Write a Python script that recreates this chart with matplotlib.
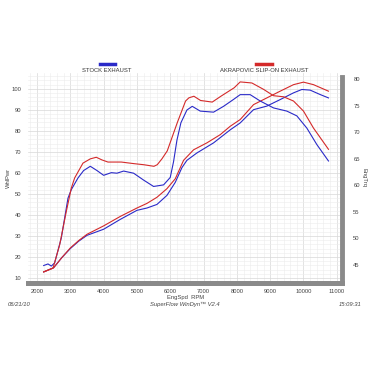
import numpy as np
import matplotlib
matplotlib.use("Agg")
import matplotlib.pyplot as plt
from matplotlib.lines import Line2D
from matplotlib.ticker import MultipleLocator

plt.rcParams['font.family'] = ['Liberation Sans', 'DejaVu Sans']

# Puissance a la roue (axe gauche)
rpm_pwr_stock = [2200, 2500, 2750, 3000, 3250, 3500, 4000, 4500, 5000, 5300, 5600, 5900,
                 6150, 6350, 6500, 6800, 7300, 7800, 8100, 8500, 8900, 9300, 9700, 9950,
                 10200, 10500, 10750]
pwr_stock = [12.9, 14.9, 19.8, 24.0, 27.5, 30.3, 33.2, 37.9, 42.2, 43.3, 45.0, 49.3,
             55.5, 62.5, 66.0, 69.5, 74.3, 80.5, 83.8, 90.1, 91.8, 94.9, 98.1, 99.7,
             99.4, 97.3, 95.7]

rpm_pwr_akra = [2200, 2500, 2750, 3000, 3250, 3500, 4000, 4500, 5000, 5300, 5600, 5900,
                6150, 6400, 6700, 7100, 7500, 7800, 8100, 8500, 8900, 9300, 9700, 10000,
                10300, 10750]
pwr_akra = [12.9, 14.9, 19.8, 24.3, 27.8, 30.8, 34.8, 39.3, 43.3, 45.5, 48.4, 52.5,
            57.2, 66.0, 71.0, 74.3, 78.2, 82.2, 85.4, 92.5, 95.7, 98.9, 102.0, 103.2,
            102.0, 98.9]

# Couple (axe droit)
rpm_trq_stock = [2200, 2330, 2430, 2530, 2730, 2930, 3030, 3230, 3400, 3600, 3800, 4000,
                 4230, 4400, 4600, 4900, 5200, 5500, 5800, 6000, 6100, 6200, 6320, 6500,
                 6660, 6900, 7300, 7600, 7900, 8100, 8400, 8700, 9100, 9500, 9800, 10100,
                 10400, 10750]
trq_stock = [44.9, 45.2, 44.8, 45.4, 50.1, 57.6, 59.2, 61.4, 62.8, 63.6, 62.8, 61.9,
             62.4, 62.3, 62.7, 62.3, 61.0, 59.8, 60.1, 61.5, 64.5, 68.5, 71.8, 74.2,
             74.9, 74.0, 73.8, 74.9, 76.2, 77.1, 77.1, 75.9, 74.6, 74.0, 73.1, 70.8,
             67.7, 64.6]

rpm_trq_akra = [2200, 2480, 2680, 2880, 3030, 3130, 3380, 3600, 3780, 3950, 4130, 4530,
                4910, 5200, 5510, 5610, 5750, 5910, 6210, 6460, 6560, 6710, 6910, 7260,
                7520, 7920, 8100, 8450, 8800, 9100, 9400, 9700, 10000, 10300, 10750]
trq_akra = [43.7, 44.4, 48.8, 55.1, 59.5, 61.4, 64.2, 65.0, 65.3, 64.8, 64.4, 64.4,
            64.1, 63.9, 63.6, 63.9, 65.0, 66.5, 71.8, 75.9, 76.5, 76.8, 76.0, 75.7,
            76.8, 78.4, 79.5, 79.3, 78.1, 76.9, 76.7, 75.9, 74.0, 70.8, 66.8]

BLUE = '#2a2ac8'
RED = '#d42a2a'
TXT = '#444444'
FS = 4.2

fig = plt.figure(figsize=(3.7, 3.7), dpi=100)
ax = fig.add_axes([0.0757, 0.235, 0.849, 0.568])
ax2 = ax.twinx()

ax.set_xlim(1730, 11160)
ax.set_ylim(7.6, 107.6)
ax2.set_ylim(41.6, 81.2)

ax.xaxis.set_major_locator(MultipleLocator(1000))
ax.xaxis.set_minor_locator(MultipleLocator(200))
ax.yaxis.set_major_locator(MultipleLocator(10))
ax.yaxis.set_minor_locator(MultipleLocator(2))
ax2.yaxis.set_major_locator(MultipleLocator(5))
ax.grid(True, which='major', color='#d8d8d8', lw=0.5)
ax.grid(True, which='minor', color='#ececec', lw=0.4)
ax.set_axisbelow(True)

ax.plot(rpm_pwr_stock, pwr_stock, color=BLUE, lw=0.8)
ax.plot(rpm_pwr_akra, pwr_akra, color=RED, lw=0.8)
ax2.plot(rpm_trq_stock, trq_stock, color=BLUE, lw=0.8)
ax2.plot(rpm_trq_akra, trq_akra, color=RED, lw=0.8)

for a in (ax, ax2):
    for s in ('top', 'left'):
        a.spines[s].set_visible(False)
    a.spines['bottom'].set_color('#8a8a8a')
    a.spines['bottom'].set_linewidth(3.5)
    a.tick_params(which='both', length=0, labelsize=FS, labelcolor=TXT)
ax.spines['right'].set_visible(False)
ax2.spines['right'].set_color('#8a8a8a')
ax2.spines['right'].set_linewidth(3.5)
ax2.spines['right'].set_bounds(41.6, 80.5)
ax.tick_params(axis='x', pad=4)
ax.tick_params(axis='y', pad=5)
ax2.tick_params(axis='y', pad=8)

ax.set_ylabel('WhlPwr', fontsize=FS, color=TXT, labelpad=0)
ax2.set_ylabel('EngTrq', fontsize=FS, color=TXT, rotation=270, labelpad=5)
ax.set_xlabel('EngSpd  RPM', fontsize=FS, color=TXT, labelpad=1)

# legende en haut
fig.add_artist(Line2D([100/370, 115/370], [1-64/370]*2, color=BLUE, lw=2.5))
fig.add_artist(Line2D([256/370, 272/370], [1-64/370]*2, color=RED, lw=2.5))
fig.text(107/370, 1-70/370, 'STOCK EXHAUST', fontsize=FS, color='#333333', ha='center', va='center')
fig.text(264/370, 1-70/370, 'AKRAPOVIC SLIP-ON EXHAUST', fontsize=FS, color='#333333', ha='center', va='center')

# pied de page
fig.text(8/370, 1-304/370, '06/21/10', fontsize=FS, color=TXT, style='italic', ha='left', va='center')
fig.text(185/370, 1-304/370, 'SuperFlow WinDyn\u2122 V2.4', fontsize=FS, color=TXT, style='italic', ha='center', va='center')
fig.text(362/370, 1-304/370, '15:09:31', fontsize=FS, color=TXT, style='italic', ha='right', va='center')

fig.savefig('out.png', dpi=100)
